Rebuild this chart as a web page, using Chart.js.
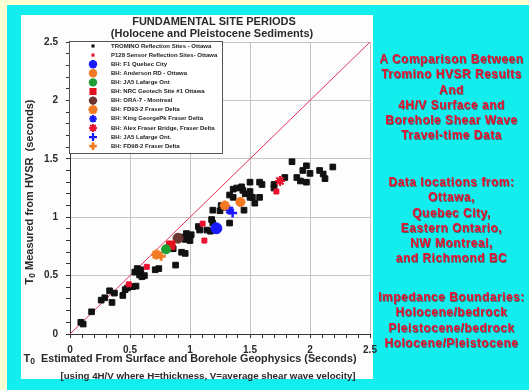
<!DOCTYPE html>
<html>
<head>
<meta charset="utf-8">
<script src="https://cdn.jsdelivr.net/npm/chart.js"></script>
<style>
  html, body { margin: 0; padding: 0; }
  body { width: 529px; height: 390px; position: relative; overflow: hidden; background: #fffdd2;
         font-family: "Liberation Sans", Arial, sans-serif; }
  #cyan { position: absolute; left: 7px; top: 5px; width: 522px; height: 385px; background: #12eeee; }
  #panel { position: absolute; left: 21px; top: 15px; width: 352px; height: 364px; background: #fdfdfd; }
  #chart { position: absolute; left: 0; top: 0; }
  .note { position: absolute; left: 374px; width: 155px; text-align: center; color: #f01030;
          font-weight: bold; font-size: 12px; letter-spacing: 0.5px; line-height: 15.3px;
          text-shadow: 0.7px 0.7px 0 rgba(90,0,0,0.55); white-space: nowrap; }
</style>
</head>
<body>
<div id="cyan"></div>
<div id="panel"></div>
<canvas id="chart" width="529" height="390"></canvas>
<div class="note" style="top:52px">A Comparison Between<br>Tromino HVSR Results<br>And<br>4H/V Surface and<br>Borehole Shear Wave<br>Travel-time Data</div>
<div class="note" style="top:175px">Data locations from:<br>Ottawa,<br>Quebec City,<br>Eastern Ontario,<br>NW Montreal,<br>and Richmond BC</div>
<div class="note" style="top:290px">Impedance Boundaries:<br>Holocene/bedrock<br>Pleistocene/bedrock<br>Holocene/Pleistocene</div>
<script>
// Axis tick labels (every 0.5 s); minor ticks every 0.1 s are unlabelled
const tickLabels = ['0', '0.5', '1', '1.5', '2', '2.5'];

// [estimated period from 4H/V, period measured from HVSR] in seconds
const tromino = [
  [0.09,0.10],[0.11,0.085],[0.18,0.19],[0.26,0.29],[0.29,0.31],[0.33,0.37],[0.37,0.35],[0.35,0.27],
  [0.44,0.33],[0.46,0.38],[0.48,0.395],[0.52,0.405],[0.55,0.41],[0.54,0.53],[0.56,0.56],[0.58,0.505],
  [0.60,0.49],[0.62,0.50],[0.59,0.55],[0.71,0.55],[0.74,0.56],[0.88,0.59],[0.93,0.70],[0.96,0.69],
  [0.86,0.73],[0.94,0.83],[0.97,0.86],[0.99,0.83],[1.01,0.85],[0.96,0.81],[1.00,0.80],[1.07,0.92],
  [1.08,0.89],[1.14,0.89],[1.17,0.88],[1.18,0.98],[1.19,0.95],[1.33,0.95],[1.19,1.06],[1.25,1.055],
  [1.29,1.085],[1.26,1.10],[1.33,1.19],[1.45,1.06],[1.36,1.17],[1.54,1.12],[1.36,1.24],[1.39,1.25],
  [1.43,1.26],[1.44,1.23],[1.46,1.20],[1.50,1.22],[1.50,1.17],[1.52,1.17],[1.58,1.17],[1.50,1.30],
  [1.58,1.30],[1.60,1.28],[1.70,1.28],[1.70,1.25],[1.79,1.34],[1.85,1.475],[1.89,1.34],[1.92,1.31],
  [1.97,1.30],[1.94,1.40],[1.97,1.44],[2.00,1.375],[2.08,1.40],[2.11,1.37],[2.125,1.33],[2.19,1.43]
];
const p128 = [[0.49,0.425],[0.64,0.575],[1.105,0.945],[1.12,0.80],[1.72,1.22]];
const f1Quebec = [[1.22,0.905]];
const andersonRd = [[1.42,1.13]];
const ja5Green = [[0.80,0.725]];
const nrcGeotech = [[0.84,0.76]];
const ora7 = [[0.90,0.82]];
const fd932 = [[0.72,0.68],[1.29,1.10]];
const kingGeorge = [[1.33,1.06]];
const alexFraser = [[1.75,1.31]];
const ja5Cross = [[1.355,1.035]];
const fd982 = [[0.76,0.665]];
// 1:1 reference line
const oneToOne = [[0,0],[2.5,2.5]];

const FONT = '"Liberation Sans", Arial, sans-serif';

const series = [
  { label: 'TROMINO Reflection Sites - Ottawa', data: tromino, style: 'rect', r: 4.0, lr: 2.2, fill: '#111', stroke: '#111', lw: 1, order: 5 },
  { label: 'P128 Sensor Reflection Sites- Ottawa', data: p128, style: 'rect', r: 3.5, lr: 2.2, fill: '#ea1030', stroke: '#ea1030', lw: 1, order: 4 },
  { label: 'BH: F1 Quebec City', data: f1Quebec, style: 'circle', r: 5.5, lr: 4.2, fill: '#1a1aff', stroke: '#1a1aff', lw: 1, order: 1 },
  { label: 'BH: Anderson RD - Ottawa', data: andersonRd, style: 'circle', r: 4.6, lr: 4.2, fill: '#f27a22', stroke: '#f27a22', lw: 1, order: 1 },
  { label: 'BH: JA5 Lafarge Ont', data: ja5Green, style: 'circle', r: 4.6, lr: 4.2, fill: '#1f9e33', stroke: '#1f9e33', lw: 1, order: 1 },
  { label: 'BH: NRC Geotech Site #1 Ottawa', data: nrcGeotech, style: 'rect', r: 6, lr: 5, fill: '#e3101e', stroke: '#e3101e', lw: 1, order: 1 },
  { label: 'BH: ORA-7 - Montreal', data: ora7, style: 'circle', r: 5, lr: 4.2, fill: '#6b3530', stroke: '#6b3530', lw: 1, order: 1 },
  { label: 'BH: FD93-2 Fraser Delta', data: fd932, style: 'star', r: 5, lr: 4.6, fill: '#f27a22', stroke: '#f27a22', lw: 3, order: 1 },
  { label: 'BH: King GeorgePk Fraser Delta', data: kingGeorge, style: 'star', r: 4.5, lr: 3.8, fill: '#1a1aff', stroke: '#1a1aff', lw: 2.2, order: 1 },
  { label: 'BH: Alex Fraser Bridge, Fraser Delta', data: alexFraser, style: 'star', r: 5, lr: 4, fill: '#ea1030', stroke: '#ea1030', lw: 2.2, order: 1 },
  { label: 'BH: JA5 Lafarge Ont.', data: ja5Cross, style: 'cross', r: 4.5, lr: 4, fill: '#1a1aff', stroke: '#1a1aff', lw: 2.5, order: 1 },
  { label: 'BH: FD98-2 Fraser Delta', data: fd982, style: 'cross', r: 4.5, lr: 3.8, fill: '#f27a22', stroke: '#f27a22', lw: 3, order: 1 }
];

const toXY = arr => arr.map(([x, y]) => ({ x, y }));

const datasets = series.map(s => ({
  label: s.label,
  data: toXY(s.data),
  pointStyle: s.style,
  pointRadius: s.r,
  backgroundColor: s.fill,
  borderColor: s.stroke,
  borderWidth: s.lw,
  order: s.order
}));
datasets.push({
  label: '',
  data: toXY(oneToOne),
  showLine: true,
  borderColor: '#e5305a',
  borderWidth: 1,
  pointRadius: 0,
  order: 10
});

const isMajor = v => Math.abs(v * 2 - Math.round(v * 2)) < 1e-6;

function axis(size, pad) {
  return {
    type: 'linear',
    min: 0,
    max: 2.5,
    afterFit(scale) {
      if (scale.isHorizontal()) scale.height = size; else scale.width = size;
    },
    ticks: {
      stepSize: 0.1,
      autoSkip: false,
      maxTicksLimit: 40,
      maxRotation: 0,
      padding: pad,
      color: '#2a2a2a',
      font: { family: FONT, size: 10, weight: 'bold' },
      callback: v => isMajor(v) ? tickLabels[Math.round(v * 2)] : ''
    },
    grid: {
      color: c => (c.tick && isMajor(c.tick.value)) ? '#c4c4c4' : 'rgba(0,0,0,0)',
      tickColor: '#333',
      tickLength: 4,
      lineWidth: 1
    },
    border: { color: '#333', width: 1 }
  };
}

// Small marker painter for the legend box
function marker(ctx, s, x, y) {
  const r = s.lr;
  ctx.save();
  ctx.fillStyle = s.fill;
  ctx.strokeStyle = s.stroke;
  ctx.lineWidth = Math.max(1, s.lw * 0.9);
  ctx.lineCap = 'butt';
  ctx.beginPath();
  if (s.style === 'circle') {
    ctx.arc(x, y, r, 0, Math.PI * 2);
    ctx.fill();
  } else if (s.style === 'rect') {
    const h = r * Math.SQRT1_2;
    ctx.fillRect(x - h, y - h, 2 * h, 2 * h);
  } else {
    ctx.moveTo(x - r, y); ctx.lineTo(x + r, y);
    ctx.moveTo(x, y - r); ctx.lineTo(x, y + r);
    if (s.style === 'star') {
      const d = r * Math.SQRT1_2;
      ctx.moveTo(x - d, y - d); ctx.lineTo(x + d, y + d);
      ctx.moveTo(x - d, y + d); ctx.lineTo(x + d, y - d);
    }
    ctx.stroke();
  }
  ctx.restore();
}

// Text runs with a subscript "0" after T
function runs(ctx, parts, cx, cy) {
  let w = 0;
  parts.forEach(p => { ctx.font = 'bold ' + p.size + 'px ' + FONT; p.w = ctx.measureText(p.t).width; w += p.w; });
  let x = cx - w / 2;
  ctx.textAlign = 'left';
  ctx.textBaseline = 'middle';
  parts.forEach(p => {
    ctx.font = 'bold ' + p.size + 'px ' + FONT;
    ctx.fillText(p.t, x, cy + (p.dy || 0));
    x += p.w;
  });
}

const decor = {
  id: 'decor',
  afterDraw(chart) {
    const ctx = chart.ctx;
    const a = chart.chartArea;
    ctx.save();
    ctx.fillStyle = '#2a2a2a';

    // heading
    ctx.textAlign = 'center';
    ctx.textBaseline = 'middle';
    ctx.font = 'bold 11px ' + FONT;
    ctx.fillText('FUNDAMENTAL SITE PERIODS', 214, 22);
    ctx.fillText('(Holocene and Pleistocene Sediments)', 212, 34);

    // x axis title
    runs(ctx, [
      { t: 'T', size: 11 }, { t: '0', size: 8.5, dy: 3 },
      { t: '  Estimated From Surface and Borehole Geophysics (Seconds)', size: 10.8 }
    ], 190, 359);
    runs(ctx, [
      { t: '[using 4H/V where H=thickness, V=average shear wave velocity]', size: 9.7 }
    ], 208, 376);

    // y axis title
    ctx.save();
    ctx.translate(30, (a.top + a.bottom) / 2 + 4);
    ctx.rotate(-Math.PI / 2);
    runs(ctx, [
      { t: 'T', size: 11 }, { t: '0', size: 8.5, dy: 3 },
      { t: ' Measured from HVSR  (seconds)', size: 11 }
    ], 0, 0);
    ctx.restore();

    // legend box
    const bx = a.left - 0.5, by = a.top - 0.5, bw = 153, bh = 112;
    ctx.fillStyle = '#ffffff';
    ctx.fillRect(bx, by, bw, bh);
    ctx.strokeStyle = '#555';
    ctx.lineWidth = 1;
    ctx.strokeRect(bx, by, bw, bh);
    ctx.textAlign = 'left';
    ctx.textBaseline = 'middle';
    series.forEach((s, i) => {
      const y = 46 + i * 9.1;
      marker(ctx, s, 93, y);
      ctx.fillStyle = '#222';
      ctx.font = 'bold 6px ' + FONT;
      ctx.fillText(s.label, 111, y);
    });
    ctx.restore();
  }
};

new Chart(document.getElementById('chart'), {
  type: 'scatter',
  data: { datasets },
  options: {
    responsive: false,
    animation: false,
    events: [],
    layout: { padding: { left: 0, top: 42, right: 159, bottom: 0 } },
    plugins: { legend: { display: false }, title: { display: false }, tooltip: { enabled: false } },
    scales: { x: axis(56, 6), y: axis(70, 8) }
  },
  plugins: [decor]
});
</script>
</body>
</html>
